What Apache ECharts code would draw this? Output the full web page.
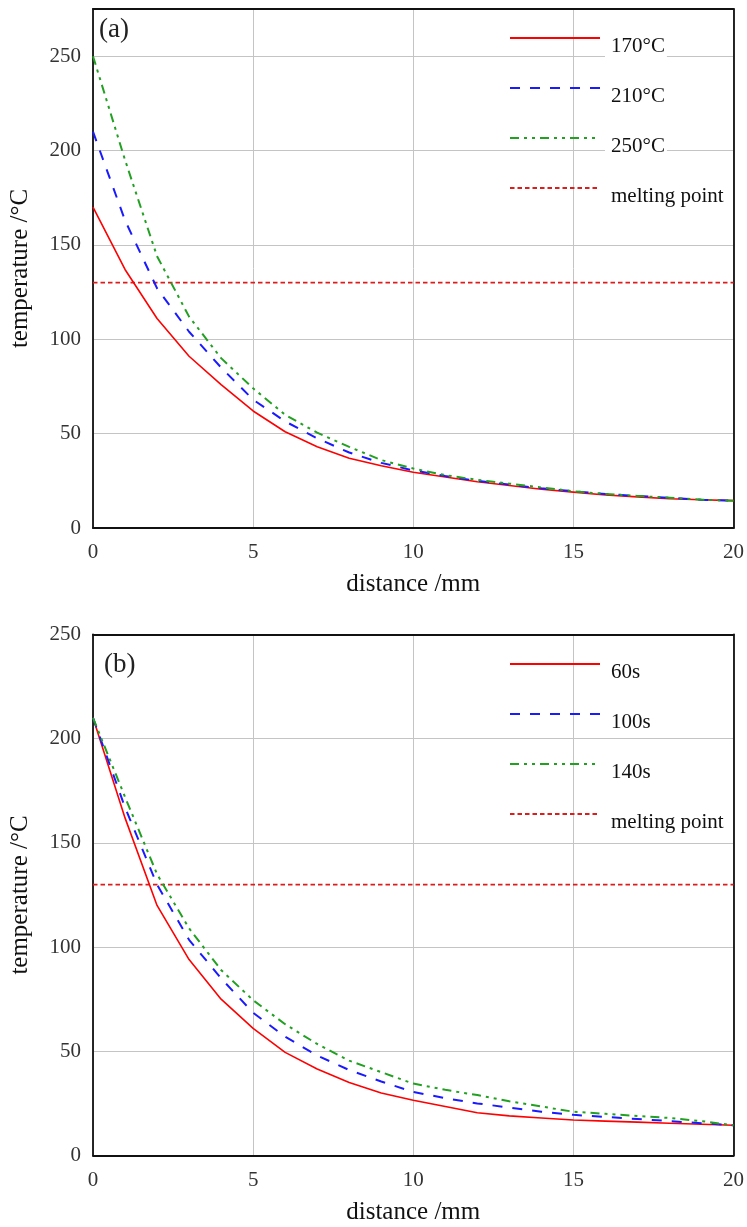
<!DOCTYPE html>
<html>
<head>
<meta charset="utf-8">
<script src="https://cdn.jsdelivr.net/npm/echarts@6/dist/echarts.min.js"></script>
<style>
  html, body { margin: 0; padding: 0; background: #fff; }
  #chart { width: 747px; height: 1227px; }
</style>
</head>
<body>
<div id="chart"></div>
<script>
// ---- data ----
const distance = [0,1,2,3,4,5,6,7,8,9,10,11,12,13,14,15,16,17,18,19,20];

// panel (a): initial temperature
const namesA = ['170°C', '210°C', '250°C'];
const tempA170 = [170,137,111,91,76,62,51,43,37,33,29.5,27,24.5,22.5,20.5,19,17.5,16.5,15.5,15,14.5];
const tempA210 = [210,163,127,104,85,68,56.5,47.5,40,34.5,30.5,27.5,25,23,21,19.5,18,17,16,15,14.5];
const tempA250 = [250,195,144,112,90,74,60,50.5,43,36,31.5,28,25.5,23.5,21.5,19.5,18,17,16,15,14.5];

// panel (b): time
const namesB = ['60s', '100s', '140s'];
const tempB60  = [210,162,120,94,75,61,49.5,41.5,35,30,26.5,23.5,20.5,19,18,17,16.5,16,15.5,15,14.5];
const tempB100 = [210,167,130,103.5,85,68.5,57,48,41,35.5,30.5,27.5,25,23,21,19.5,18.5,17.5,16.5,15.5,14.5];
const tempB140 = [210,172,135,109,89,74.5,63,53.5,45.5,40,34.5,31.5,29,26,23.5,21,20,19,18,16.5,14.5];

const meltingName = 'melting point';
const meltingPoint = 130;
const meltingX = [0, 20];

const panelLabels = ['(a)', '(b)'];
const xTitle = 'distance /mm';
const yTitle = 'temperature /°C';

// ---- helpers ----
const FONT = '"Liberation Serif", "DejaVu Serif", serif';
const pairs = (xs, ys) => xs.map((x, i) => [x, ys[i]]);

const styles = [
  { color: '#ff0000', width: 1.6, type: 'solid' },
  { color: '#1a1aff', width: 2, type: [10, 10] },
  { color: '#22a022', width: 2, type: [9, 5, 3, 5, 3, 5] },
];
const meltStyle = { color: '#dd1c1c', width: 1.6, type: [4.5, 3] };

function mainXAxis(gi) {
  return {
    type: 'value', gridIndex: gi, min: 0, max: 20, interval: 5,
    position: 'bottom',
    name: xTitle, nameLocation: 'middle', nameGap: 44,
    nameTextStyle: { fontFamily: FONT, fontSize: 25, color: '#111' },
    axisLine: { show: true, onZero: false, lineStyle: { color: '#111', width: 1.8 } },
    axisTick: { show: false },
    axisLabel: { fontFamily: FONT, fontSize: 21, color: '#333', margin: 14 },
    splitLine: { show: true, lineStyle: { color: '#c4c4c4', width: 1 } },
  };
}
function frameXAxis(gi) {
  return {
    type: 'value', gridIndex: gi, min: 0, max: 20, position: 'top',
    axisLine: { show: true, onZero: false, lineStyle: { color: '#111', width: 1.8 } },
    axisTick: { show: false }, axisLabel: { show: false }, splitLine: { show: false },
  };
}
function mainYAxis(gi, max) {
  return {
    type: 'value', gridIndex: gi, min: 0, max: max, interval: 50,
    position: 'left',
    name: yTitle, nameLocation: 'middle', nameGap: 60, nameRotate: 90,
    nameTextStyle: { fontFamily: FONT, fontSize: 25, color: '#111' },
    axisLine: { show: true, onZero: false, lineStyle: { color: '#111', width: 1.8 } },
    axisTick: { show: false },
    axisLabel: { fontFamily: FONT, fontSize: 21, color: '#333', margin: 12, showMaxLabel: max === 250 },
    splitLine: { show: true, lineStyle: { color: '#c4c4c4', width: 1 } },
  };
}
function frameYAxis(gi, max) {
  return {
    type: 'value', gridIndex: gi, min: 0, max: max, position: 'right',
    axisLine: { show: true, onZero: false, lineStyle: { color: '#111', width: 1.8 } },
    axisTick: { show: false }, axisLabel: { show: false }, splitLine: { show: false },
  };
}
function lineSeries(name, ys, st, xi, yi) {
  return {
    type: 'line', name: name, xAxisIndex: xi, yAxisIndex: yi,
    data: pairs(distance, ys), symbol: 'none', smooth: false,
    lineStyle: { color: st.color, width: st.width, type: st.type },
    itemStyle: { color: st.color },
    z: 3,
  };
}
function meltSeries(xi, yi) {
  return {
    type: 'line', name: meltingName, xAxisIndex: xi, yAxisIndex: yi,
    data: meltingX.map(x => [x, meltingPoint]), symbol: 'none',
    lineStyle: { color: meltStyle.color, width: meltStyle.width, type: meltStyle.type },
    itemStyle: { color: meltStyle.color },
    z: 2,
  };
}
// legend keys (lines only, no text)
function legendKeys(names, top) {
  return {
    orient: 'vertical', left: 504, top: top,
    data: names, itemWidth: 90, itemHeight: 24, itemGap: 26,
    selectedMode: false,
    itemStyle: { opacity: 0, color: 'rgba(0,0,0,0)', borderWidth: 0 },
    formatter: () => ' ',
    textStyle: { fontFamily: FONT, fontSize: 21, lineHeight: 24, color: '#111' },
  };
}
// legend labels (text only, shifted below the keys)
function legendLabels(names, top) {
  return {
    orient: 'vertical', left: 504, top: top,
    data: names, itemWidth: 90, itemHeight: 24, itemGap: 26,
    selectedMode: false,
    itemStyle: { opacity: 0, color: 'rgba(0,0,0,0)', borderWidth: 0 },
    lineStyle: { opacity: 0 },
    textStyle: {
      fontFamily: FONT, fontSize: 21, color: '#111',
      lineHeight: 24, padding: [0, 2, 0, 6], backgroundColor: '#fff'
    },
  };
}

const series = [
  lineSeries(namesA[0], tempA170, styles[0], 0, 0),
  lineSeries(namesA[1], tempA210, styles[1], 0, 0),
  lineSeries(namesA[2], tempA250, styles[2], 0, 0),
  meltSeries(0, 0),
  lineSeries(namesB[0], tempB60, styles[0], 2, 2),
  lineSeries(namesB[1], tempB100, styles[1], 2, 2),
  lineSeries(namesB[2], tempB140, styles[2], 2, 2),
  meltSeries(2, 2),
];

const option = {
  backgroundColor: '#fff',
  animation: false,
  grid: [
    { left: 88, right: 13, top: 9, height: 519 },
    { left: 88, right: 11, top: 634.5, height: 521 },
  ],
  xAxis: [mainXAxis(0), frameXAxis(0), mainXAxis(1), frameXAxis(1)],
  yAxis: [mainYAxis(0, 275), frameYAxis(0, 275), mainYAxis(1, 250), frameYAxis(1, 250)],
  legend: [
    legendKeys(namesA.concat([meltingName]), 21),
    legendLabels(namesA.concat([meltingName]), 29),
    legendKeys(namesB.concat([meltingName]), 647),
    legendLabels(namesB.concat([meltingName]), 655),
  ],
  graphic: [
    { type: 'text', left: 99, top: 16, style: { text: panelLabels[0], font: '27px ' + FONT, fill: '#222' } },
    { type: 'text', left: 104, top: 651, style: { text: panelLabels[1], font: '27px ' + FONT, fill: '#222' } },
  ],
  series: series,
};
const chart = echarts.init(document.getElementById('chart'), null, { renderer: 'canvas' });
chart.setOption(option);
</script>
</body>
</html>
